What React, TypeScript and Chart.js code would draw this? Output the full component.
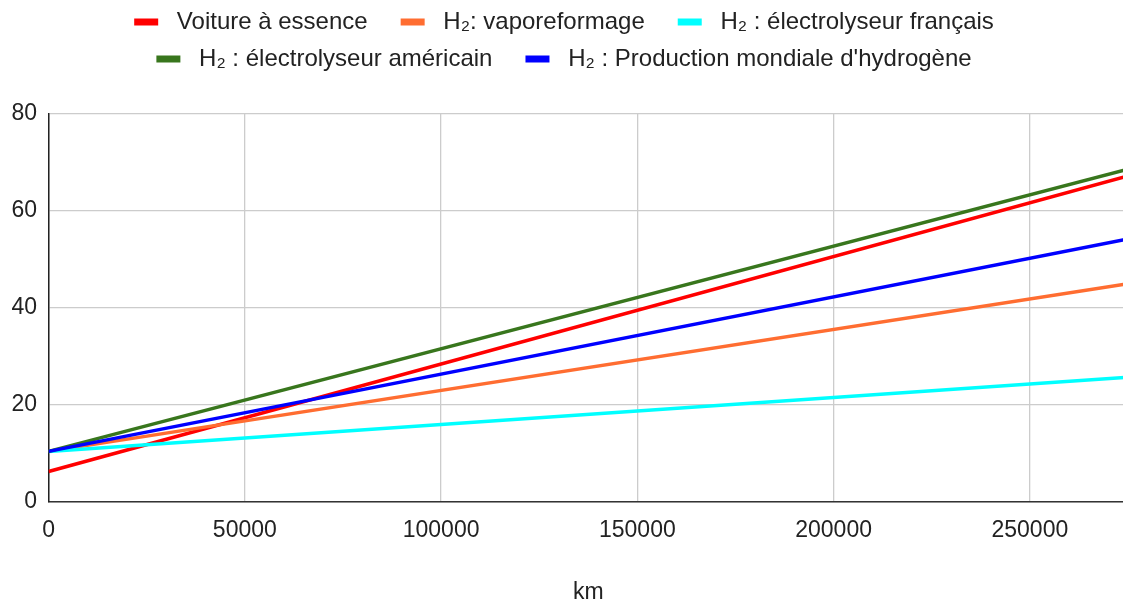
import React, { useEffect, useRef } from 'react';
import { Chart, registerables } from 'chart.js';

Chart.register(...registerables);

// ---- Data ----
const kmPoints = [0, 275000];
const voitureEssence = [6.25, 67.2];
const h2Vaporeformage = [10.4, 45.0];
const h2ElectroFrancais = [10.4, 25.7];
const h2ElectroAmericain = [10.4, 68.6];
const h2ProductionMondiale = [10.4, 54.2];

const seriesLabels = [
  'Voiture à essence',
  'H₂: vaporeformage',
  'H₂ : électrolyseur français',
  'H₂ : électrolyseur américain',
  "H₂ : Production mondiale d'hydrogène",
];
const seriesColors = ['#ff0000', '#ff6d31', '#00ffff', '#38761d', '#0000ff'];
const xTickValues = [0, 50000, 100000, 150000, 200000, 250000];
const yTickValues = [0, 20, 40, 60, 80];
const xAxisTitle = 'km';

const FONT_FAMILY = '"Liberation Sans", Arial, sans-serif';
const TEXT_COLOR = '#222222';

const legendHeightFix = {
  id: 'legendHeightFix',
  beforeInit(chart: any) {
    const legend = chart.legend;
    if (!legend) return;
    const origFit = legend.fit;
    legend.fit = function () {
      origFit.call(this);
      this.height = 117;
    };
  },
};

export default function App() {
  const canvasRef = useRef<HTMLCanvasElement | null>(null);

  useEffect(() => {
    if (!canvasRef.current) return;
    const seriesValues = [
      voitureEssence,
      h2Vaporeformage,
      h2ElectroFrancais,
      h2ElectroAmericain,
      h2ProductionMondiale,
    ];
    const datasets = seriesValues.map((vals, i) => ({
      label: seriesLabels[i],
      data: kmPoints.map((x, j) => ({ x, y: vals[j] })),
      borderColor: seriesColors[i],
      backgroundColor: seriesColors[i],
      borderWidth: 3.5,
      pointRadius: 0,
      pointHoverRadius: 0,
      tension: 0,
      fill: false,
      order: seriesValues.length - i,
    }));

    const tickFont = { family: FONT_FAMILY, size: 23 };
    const legendFont = { family: FONT_FAMILY, size: 24 };
    // items that end a legend row get no trailing gap
    const rowEndItems = [2, 4];

    const chart = new Chart(canvasRef.current, {
      type: 'line',
      data: { datasets },
      plugins: [legendHeightFix],
      options: {
        responsive: false,
        animation: false,
        layout: { padding: { left: 0, right: 0, top: 0, bottom: 0 } },
        plugins: {
          tooltip: { enabled: false },
          legend: {
            display: true,
            position: 'top',
            align: 'center',
            labels: {
              font: legendFont,
              color: TEXT_COLOR,
              boxWidth: 24,
              boxHeight: 7,
              padding: 13,
              generateLabels: (c: any) => {
                const base = (Chart.defaults.plugins.legend.labels as any).generateLabels(c);
                base.sort((a: any, b: any) => a.datasetIndex - b.datasetIndex);
                return base.map((it: any) => ({
                  ...it,
                  lineWidth: 0,
                  text: ' ' + it.text + (rowEndItems.includes(it.datasetIndex) ? '' : '   '),
                }));
              },
            },
          },
        },
        scales: {
          x: {
            type: 'linear',
            min: kmPoints[0],
            max: kmPoints[kmPoints.length - 1],
            afterBuildTicks: (axis: any) => {
              axis.ticks = xTickValues.map((v) => ({ value: v }));
            },
            ticks: {
              font: tickFont,
              color: TEXT_COLOR,
              padding: 15,
              maxRotation: 0,
              autoSkip: false,
              callback: (v: any) => String(v),
            },
            grid: { color: '#cccccc', lineWidth: 1.3, drawTicks: false },
            border: { color: '#333333', width: 1.5 },
            title: {
              display: true,
              text: xAxisTitle,
              font: tickFont,
              color: TEXT_COLOR,
              padding: { top: 19, bottom: 0 },
            },
          },
          y: {
            type: 'linear',
            min: yTickValues[0],
            max: yTickValues[yTickValues.length - 1],
            afterBuildTicks: (axis: any) => {
              axis.ticks = yTickValues.map((v) => ({ value: v }));
            },
            ticks: {
              font: tickFont,
              color: TEXT_COLOR,
              padding: 11.5,
              callback: (v: any) => String(v),
            },
            grid: { color: '#cccccc', lineWidth: 1.3, drawTicks: false },
            border: { color: '#222222', width: 1.5 },
          },
        },
      } as any,
    });
    return () => chart.destroy();
  }, []);

  return (
    <div
      style={{
        position: 'fixed',
        left: 0,
        top: 0,
        width: 1123,
        height: 604,
        overflow: 'hidden',
        background: '#ffffff',
      }}
    >
      <div style={{ position: 'absolute', left: 0, top: -3, width: 1128, height: 609 }}>
        <canvas ref={canvasRef} width={1128} height={609} style={{ width: 1128, height: 609, display: 'block' }} />
      </div>
    </div>
  );
}
